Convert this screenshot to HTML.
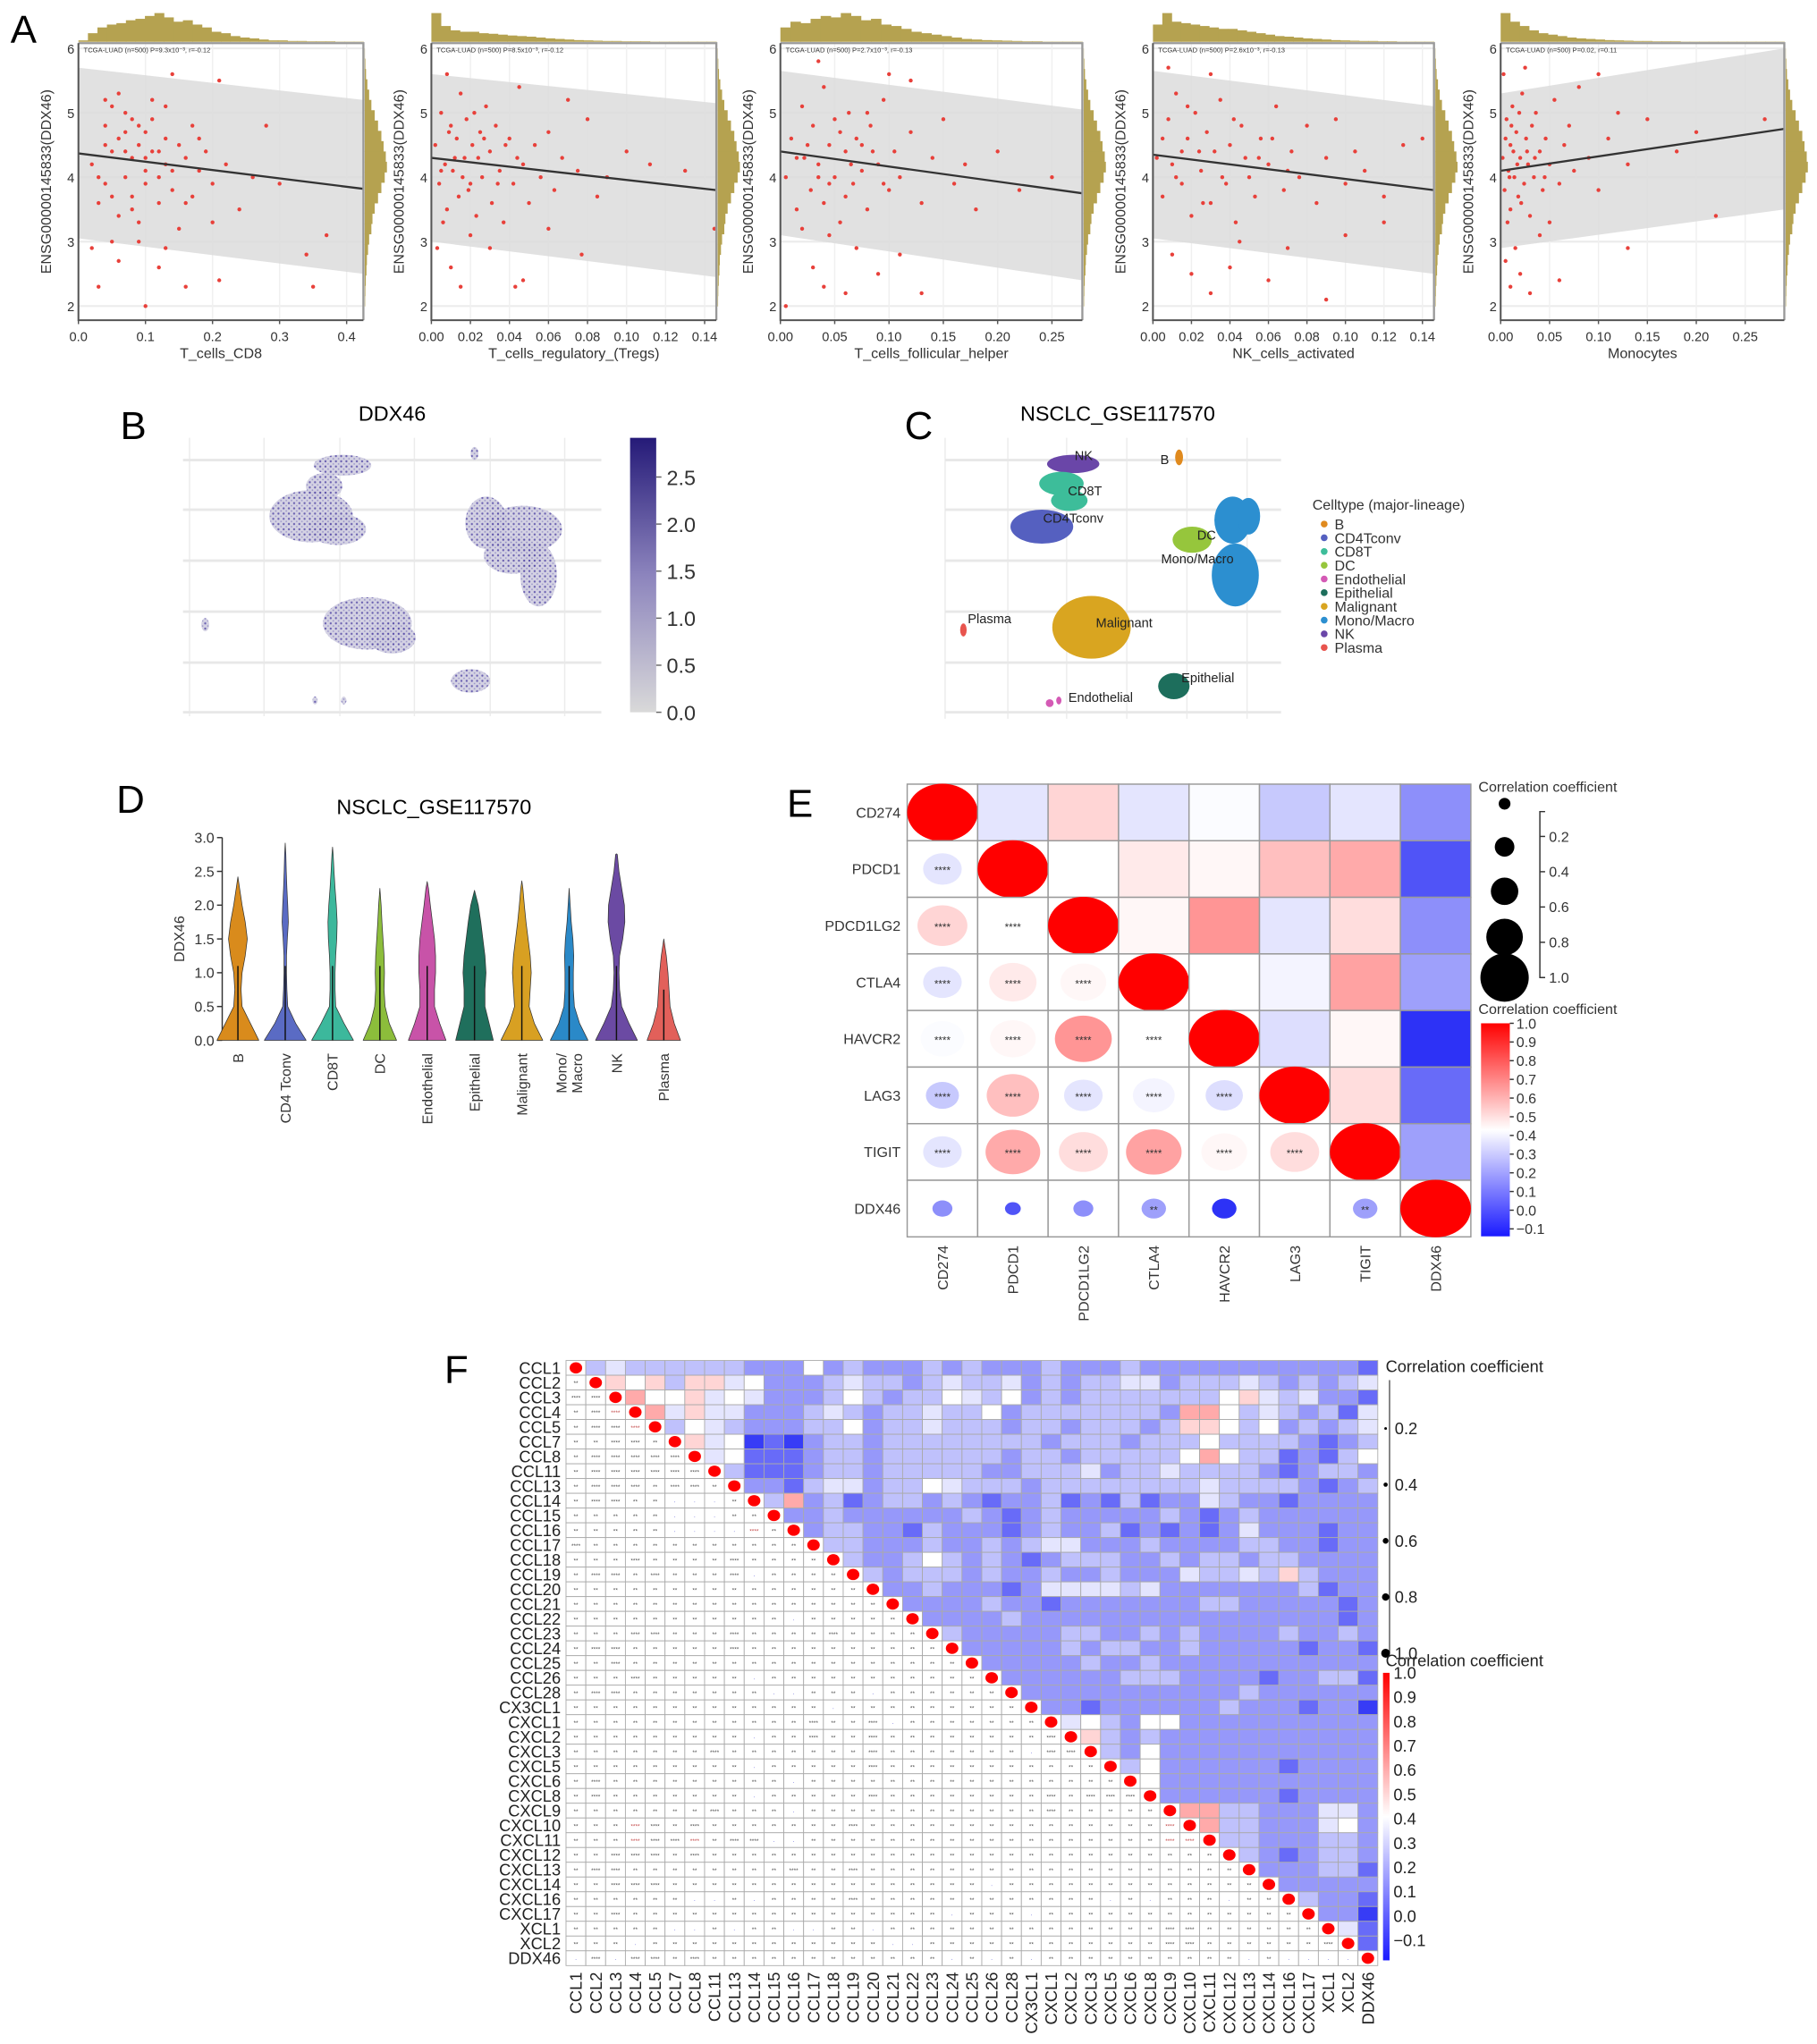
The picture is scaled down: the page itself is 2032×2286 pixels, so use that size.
<!DOCTYPE html>
<html><head><meta charset="utf-8"><title>DDX46 figure</title>
<style>
html,body{margin:0;padding:0;background:#fff;}
svg{display:block;font-family:"Liberation Sans",Arial,sans-serif;}
</style></head>
<body>
<svg id="fig" xmlns="http://www.w3.org/2000/svg" width="2032" height="2286" viewBox="0 0 1390 1564" preserveAspectRatio="none">
<defs>
<linearGradient id="gradB" x1="0" y1="1" x2="0" y2="0">
<stop offset="0" stop-color="#d9d9d9"/><stop offset="0.5" stop-color="#8c84bd"/><stop offset="1" stop-color="#251a78"/></linearGradient>
<linearGradient id="gradCorr" x1="0" y1="0" x2="0" y2="1">
<stop offset="0" stop-color="#ff0000"/><stop offset="0.5" stop-color="#ffffff"/><stop offset="1" stop-color="#1a1aff"/></linearGradient>
<pattern id="dotsB" width="4" height="4" patternUnits="userSpaceOnUse">
<rect width="4" height="4" fill="#cfcde0"/><circle cx="1" cy="1" r="0.8" fill="#5a4fa8"/><circle cx="3" cy="3" r="0.6" fill="#8c86c2"/></pattern>
</defs>
<text x="8" y="33" font-size="30">A</text>
<text x="92" y="336" font-size="30">B</text>
<text x="692" y="336" font-size="30">C</text>
<text x="89" y="622" font-size="30">D</text>
<text x="602" y="625" font-size="30">E</text>
<text x="340" y="1058" font-size="30">F</text>
<text x="300" y="322" font-size="16" text-anchor="middle">DDX46</text>
<text x="855" y="322" font-size="16" text-anchor="middle">NSCLC_GSE117570</text>
<text x="332" y="623" font-size="16" text-anchor="middle">NSCLC_GSE117570</text>
</svg>
<script>
// ---------- DATA: panel A ----------
const aStats = ["TCGA-LUAD (n=500) P=9.3x10\u207B\u00B3, r=-0.12","TCGA-LUAD (n=500) P=8.5x10\u207B\u00B3, r=-0.12","TCGA-LUAD (n=500) P=2.7x10\u207B\u00B3, r=-0.13","TCGA-LUAD (n=500) P=2.6x10\u207B\u00B3, r=-0.13","TCGA-LUAD (n=500) P=0.02, r=0.11"];
const aXLabels = ["T_cells_CD8","T_cells_regulatory_(Tregs)","T_cells_follicular_helper","NK_cells_activated","Monocytes"];
const aXMax = [0.425,0.146,0.278,0.146,0.29];
const aTicks1 = [0,0.1,0.2,0.3,0.4];
const aTickLab1 = ["0.0","0.1","0.2","0.3","0.4"];
const aTicks2 = [0,0.02,0.04,0.06,0.08,0.10,0.12,0.14];
const aTickLab2 = ["0.00","0.02","0.04","0.06","0.08","0.10","0.12","0.14"];
const aTicks3 = [0,0.05,0.10,0.15,0.20,0.25];
const aTickLab3 = ["0.00","0.05","0.10","0.15","0.20","0.25"];
const aYTicks = [2,3,4,5,6];
const aLineStart = [4.37,4.30,4.40,4.35,4.10];
const aLineEnd = [3.82,3.80,3.75,3.80,4.75];
const aBandTop = [[5.70,5.20],[5.60,5.15],[5.65,5.05],[5.65,5.10],[5.30,6.00]];
const aBandBot = [[3.05,2.50],[3.00,2.45],[3.10,2.40],[3.05,2.50],[2.90,3.50]];
const pts1=[[0.02,4.2],[0.03,3.6],[0.04,4.8],[0.04,3.9],[0.05,5.1],[0.05,4.4],[0.06,3.4],[0.06,4.6],[0.07,4.0],[0.07,5.0],[0.08,4.3],[0.08,3.7],[0.08,4.9],[0.09,4.5],[0.09,3.3],[0.1,4.1],[0.1,4.7],[0.1,3.9],[0.11,4.4],[0.11,5.2],[0.12,4.0],[0.12,3.6],[0.13,4.6],[0.13,4.2],[0.14,5.6],[0.14,3.8],[0.15,4.5],[0.15,3.2],[0.16,4.3],[0.17,4.8],[0.17,3.7],[0.18,4.1],[0.19,4.4],[0.2,3.9],[0.21,5.5],[0.22,4.2],[0.24,3.5],[0.26,4.0],[0.28,4.8],[0.3,3.9],[0.03,2.3],[0.06,2.7],[0.1,2.0],[0.12,2.6],[0.16,2.3],[0.21,2.4],[0.35,2.3],[0.34,2.8],[0.37,3.1],[0.2,3.3],[0.09,3.0],[0.05,3.0],[0.13,2.9],[0.02,2.9],[0.07,4.7],[0.11,4.9],[0.04,4.5],[0.06,5.3],[0.09,4.8],[0.12,4.4],[0.03,4.0],[0.08,3.5],[0.14,4.1],[0.05,3.7],[0.1,4.3],[0.16,3.6],[0.07,4.4],[0.13,5.1],[0.18,4.6],[0.04,5.2]];
const pts2=[[0.002,4.5],[0.004,3.9],[0.005,5.0],[0.007,4.2],[0.008,3.5],[0.01,4.8],[0.011,4.1],[0.013,4.6],[0.014,3.7],[0.015,5.3],[0.017,4.3],[0.018,4.9],[0.02,3.9],[0.021,4.5],[0.023,3.4],[0.025,4.7],[0.026,4.0],[0.028,5.1],[0.03,4.4],[0.031,3.6],[0.033,4.8],[0.035,4.1],[0.037,3.3],[0.04,4.6],[0.042,3.9],[0.045,5.4],[0.047,4.2],[0.05,3.6],[0.053,4.5],[0.056,4.0],[0.06,4.7],[0.063,3.8],[0.067,4.3],[0.07,5.2],[0.075,4.1],[0.08,4.9],[0.085,3.7],[0.09,4.0],[0.1,4.4],[0.112,4.2],[0.13,4.1],[0.145,3.2],[0.003,2.9],[0.01,2.6],[0.015,2.3],[0.03,2.9],[0.043,2.3],[0.047,2.4],[0.077,2.8],[0.06,3.2],[0.02,3.1],[0.008,5.6],[0.012,4.3],[0.038,4.5],[0.005,4.1],[0.016,4.0],[0.024,4.3],[0.009,4.7],[0.019,3.8],[0.027,4.6],[0.034,3.9],[0.006,3.3],[0.022,5.0],[0.044,4.3]];
const pts3=[[0.005,4.0],[0.01,4.6],[0.015,3.5],[0.02,5.1],[0.022,4.3],[0.028,3.8],[0.03,4.8],[0.035,4.2],[0.04,5.4],[0.04,3.6],[0.045,4.5],[0.05,4.0],[0.05,4.9],[0.055,3.3],[0.06,4.4],[0.063,5.0],[0.067,3.9],[0.07,4.6],[0.075,4.1],[0.08,3.5],[0.083,4.8],[0.09,4.2],[0.095,5.2],[0.1,3.8],[0.105,4.4],[0.11,4.0],[0.12,4.7],[0.13,3.6],[0.14,4.3],[0.15,4.9],[0.16,3.9],[0.17,4.2],[0.18,3.5],[0.2,4.4],[0.22,3.8],[0.25,4.0],[0.03,2.6],[0.04,2.3],[0.06,2.2],[0.07,2.9],[0.09,2.5],[0.11,2.8],[0.13,2.2],[0.005,2.0],[0.02,3.2],[0.12,5.5],[0.035,5.8],[0.085,4.4],[0.045,3.1],[0.1,5.6],[0.025,4.5],[0.055,4.7],[0.065,4.2],[0.015,4.3],[0.045,3.9],[0.075,4.5],[0.035,4.0],[0.095,3.9],[0.06,3.7],[0.08,5.0]];
const pts4=[[0.002,4.3],[0.005,3.7],[0.008,4.9],[0.01,4.2],[0.012,5.3],[0.015,3.9],[0.018,4.6],[0.02,3.4],[0.022,5.0],[0.025,4.1],[0.028,4.7],[0.03,3.6],[0.032,4.4],[0.035,5.2],[0.038,3.9],[0.04,4.5],[0.043,3.3],[0.046,4.8],[0.05,4.0],[0.053,3.7],[0.056,4.6],[0.06,4.2],[0.064,5.1],[0.068,3.8],[0.072,4.4],[0.076,4.0],[0.08,4.8],[0.085,3.6],[0.09,4.3],[0.095,4.9],[0.1,3.9],[0.105,4.4],[0.11,4.1],[0.12,3.7],[0.13,4.5],[0.14,4.6],[0.01,2.8],[0.02,2.5],[0.03,2.2],[0.04,2.6],[0.045,3.0],[0.06,2.4],[0.07,2.9],[0.09,2.1],[0.1,3.1],[0.12,3.3],[0.008,5.7],[0.03,5.6],[0.055,4.3],[0.015,4.4],[0.024,4.4],[0.036,4.0],[0.048,4.3],[0.012,4.0],[0.026,3.6],[0.042,4.9],[0.062,4.6],[0.018,5.1],[0.07,4.1],[0.005,4.6]];
const pts5=[[0.002,4.3],[0.004,3.8],[0.006,4.9],[0.008,4.1],[0.01,4.5],[0.01,3.5],[0.012,5.1],[0.014,4.0],[0.016,4.7],[0.018,3.7],[0.02,4.3],[0.022,5.3],[0.024,3.9],[0.026,4.6],[0.028,4.2],[0.03,3.4],[0.032,4.8],[0.034,4.0],[0.036,5.0],[0.04,4.4],[0.043,3.8],[0.046,4.6],[0.05,4.2],[0.055,5.2],[0.06,3.9],[0.065,4.5],[0.07,4.8],[0.075,4.1],[0.08,5.4],[0.09,4.3],[0.1,3.8],[0.11,4.6],[0.12,5.0],[0.13,4.2],[0.15,4.9],[0.18,4.4],[0.2,4.7],[0.27,4.9],[0.005,2.7],[0.01,2.3],[0.015,2.9],[0.02,2.5],[0.03,2.2],[0.04,3.1],[0.06,2.4],[0.13,2.9],[0.22,3.4],[0.003,5.6],[0.025,5.7],[0.05,3.3],[0.1,5.6],[0.005,4.6],[0.009,4.0],[0.013,4.4],[0.017,4.2],[0.021,3.6],[0.027,4.4],[0.035,4.3],[0.007,3.3],[0.011,4.8],[0.019,5.0],[0.045,4.0]];
const aPts=[pts1,pts2,pts3,pts4,pts5];
const histTop1=[0.05,0.3,0.5,0.6,0.65,0.75,0.8,0.9,1.0,0.85,0.7,0.75,0.6,0.5,0.35,0.3,0.2,0.15,0.12,0.08,0.05,0.05,0.03,0.03,0.02,0.02,0.02,0.01,0.01,0.01];
const histTop2=[1.0,0.55,0.4,0.35,0.35,0.3,0.28,0.25,0.22,0.2,0.18,0.15,0.12,0.1,0.08,0.06,0.05,0.04,0.03,0.03,0.02,0.02,0.02,0.01,0.01,0.01,0.01,0.01,0.01,0.01];
const histTop3=[0.5,0.7,0.65,0.8,0.9,0.85,1.0,0.9,0.75,0.8,0.6,0.55,0.45,0.35,0.3,0.25,0.2,0.15,0.1,0.08,0.06,0.05,0.04,0.03,0.02,0.02,0.01,0.01,0.01,0.01];
const histTop4=[0.6,1.0,0.7,0.65,0.6,0.55,0.5,0.45,0.45,0.4,0.35,0.3,0.25,0.2,0.18,0.15,0.12,0.1,0.08,0.06,0.05,0.04,0.03,0.03,0.02,0.02,0.01,0.01,0.01,0.01];
const histTop5=[1.0,0.7,0.55,0.4,0.3,0.25,0.2,0.15,0.12,0.1,0.08,0.06,0.05,0.04,0.03,0.03,0.02,0.02,0.02,0.01,0.01,0.01,0.01,0.01,0.01,0.01,0.01,0.01,0.01,0.01];
const aHistTop=[histTop1,histTop2,histTop3,histTop4,histTop5];
const histRight=[0.02,0.03,0.05,0.08,0.1,0.15,0.2,0.3,0.35,0.45,0.6,0.75,0.9,1.0,0.95,0.85,0.75,0.6,0.45,0.3,0.2,0.12,0.06,0.03,0.01];

// ---------- DATA: panel C ----------
const cellTypes=["B","CD4Tconv","CD8T","DC","Endothelial","Epithelial","Malignant","Mono/Macro","NK","Plasma"];
const cellColors=["#e08a1e","#5560c0","#3dbd9a","#96c63c","#d45ab5","#1d6e5c","#d9a520","#2c8fd0","#6a46a8","#e8544e"];

// ---------- DATA: panel D ----------
const violinCats=["B","CD4 Tconv","CD8T","DC","Endothelial","Epithelial","Malignant","Mono/Macro","NK","Plasma"];
const violinLevels=[0,0.25,0.5,0.75,1.0,1.25,1.5,1.75,2.0,2.25,2.5,2.75,3.0];
const violinMax=[2.42,2.92,2.86,2.25,2.35,2.22,2.36,2.25,2.76,1.5];
const vB=[1,0.6,0.2,0.15,0.2,0.35,0.45,0.35,0.2,0.08,0,0,0];
const vCD4=[1,0.5,0.12,0.08,0.06,0.06,0.1,0.15,0.12,0.08,0.05,0.03,0];
const vCD8=[1,0.55,0.15,0.12,0.12,0.15,0.2,0.22,0.18,0.12,0.07,0.03,0];
const vDC=[0.8,0.45,0.25,0.2,0.22,0.2,0.15,0.1,0.06,0.03,0,0,0];
const vEndo=[0.9,0.6,0.35,0.35,0.4,0.4,0.35,0.25,0.15,0.06,0,0,0];
const vEpi=[0.9,0.7,0.5,0.5,0.55,0.5,0.4,0.3,0.18,0.06,0,0,0];
const vMal=[1,0.6,0.35,0.4,0.45,0.4,0.3,0.2,0.12,0.05,0,0,0];
const vMono=[0.9,0.5,0.25,0.2,0.2,0.22,0.18,0.1,0.05,0.02,0,0,0];
const vNK=[1,0.6,0.25,0.15,0.12,0.15,0.3,0.4,0.38,0.25,0.12,0.04,0];
const vPlasma=[0.8,0.5,0.3,0.25,0.2,0.12,0.05,0,0,0,0,0,0];
const violinDens=[vB,vCD4,vCD8,vDC,vEndo,vEpi,vMal,vMono,vNK,vPlasma];
const violinColors=["#d98b1c","#5a6bc4","#3cb89c","#8cbd3b","#c853a8","#1f6f5c","#d8a022","#2a89c8","#6b4aa3","#e2605a"];
const violinYTicks=[0,0.5,1.0,1.5,2.0,2.5,3.0];

// ---------- DATA: panel E ----------
const eGenes=["CD274","PDCD1","PDCD1LG2","CTLA4","HAVCR2","LAG3","TIGIT","DDX46"];
const eRow0=[1,0.3,0.5,0.3,0.38,0.22,0.3,0.08];
const eRow1=[0.3,1,0.4,0.45,0.42,0.55,0.6,-0.05];
const eRow2=[0.5,0.4,1,0.42,0.65,0.3,0.48,0.08];
const eRow3=[0.3,0.45,0.42,1,0.4,0.35,0.62,0.12];
const eRow4=[0.38,0.42,0.65,0.4,1,0.28,0.42,-0.12];
const eRow5=[0.22,0.55,0.3,0.35,0.28,1,0.48,0.0];
const eRow6=[0.3,0.6,0.48,0.62,0.42,0.48,1,0.12];
const eRow7=[0.08,-0.05,0.08,0.12,-0.12,0.0,0.12,1];
const eMat=[eRow0,eRow1,eRow2,eRow3,eRow4,eRow5,eRow6,eRow7];
const eStarsDDX46=["","","","**","","","**"];
const eColorTicks=[1.0,0.9,0.8,0.7,0.6,0.5,0.4,0.3,0.2,0.1,0.0,-0.1];
const eSizeTicks=[0.2,0.4,0.6,0.8,1.0];

// ---------- DATA: panel F ----------
const fGenes=["CCL1","CCL2","CCL3","CCL4","CCL5","CCL7","CCL8","CCL11","CCL13","CCL14","CCL15","CCL16","CCL17","CCL18","CCL19","CCL20","CCL21","CCL22","CCL23","CCL24","CCL25","CCL26","CCL28","CX3CL1","CXCL1","CXCL2","CXCL3","CXCL5","CXCL6","CXCL8","CXCL9","CXCL10","CXCL11","CXCL12","CXCL13","CXCL14","CXCL16","CXCL17","XCL1","XCL2","DDX46"];
// upper triangle, code digit d -> r = d/10 - 0.1
const fUpper=[
"3433333322252322232322232223222222222221",
"656366452223433234334232334423334323234",
"755645422235323354352323333333564342214",
"74644222343233433523333333277534323146",
"3543222335233433323323332366535232346",
"645010233233333333233323335333321232",
"45111233233333323323333357533121352",
"3111233233333223334233433332123321",
"221344233543332333333334333321231",
"37231233232122312131224322122222",
"2232222223212322222321232222222",
"233221322212322312121242221222",
"33222322323442223222233221220",
"3223532321233322323323322222",
"323332322322322243343632223322",
"22322212444434222222231222",
"2222322122222223322222122",
"222232222222222222222122",
"32222233223232222322322",
"2222232332232222212212",
"22222322322222222222",
"2222223332222122331",
"222222222223222222",
"22122222232221220",
"4532552222222222",
"632322222222222",
"32522222222222",
"3522222212222",
"522222222222",
"22222212222",
"7733222442",
"733222452",
"33222332",
"3212332",
"222331",
"22222",
"3221",
"220",
"41",
"1"];
const fColorTicks=[1.0,0.9,0.8,0.7,0.6,0.5,0.4,0.3,0.2,0.1,0.0,-0.1];
const fSizeTicks=[0.2,0.4,0.6,0.8,1.0];

// ---------- helpers ----------
const NS='http://www.w3.org/2000/svg';
const svg=document.getElementById('fig');
function mk(tag,attrs,parent){const e=document.createElementNS(NS,tag);for(const k in attrs)e.setAttribute(k,attrs[k]);(parent||svg).appendChild(e);return e;}
function group(name){const g=mk('g',{});


return g;}
function corrColor(v){let r,g,b;if(v>=0.4){const t=Math.min(1,(v-0.4)/0.6);r=255;g=255*(1-t);b=255*(1-t);}else{const t=Math.pow(Math.min(1,(0.4-v)/0.55),1.25);r=255-225*t;g=255-220*t;b=255-10*t;}return 'rgb('+Math.round(r)+','+Math.round(g)+','+Math.round(b)+')';}

// ---------- Panel A ----------
const aLeft=[60,330,597,882,1148], aRight=[278,548,828,1097,1365];
const aTickSets=[[aTicks1,aTickLab1],[aTicks2,aTickLab2],[aTicks3,aTickLab3],[aTicks2,aTickLab2],[aTicks3,aTickLab3]];
const aTop=33, aBot=245;
function yA(v){return 37+(6-v)*49.3;}
for(let p=0;p<5;p++){
  const g=group('scatter-panel-'+(p+1));
  const L=aLeft[p],R=aRight[p];
  const xA=v=>L+(v/aXMax[p])*(R-L);
  aYTicks.forEach(t=>{const gl=mk('line',{x1:L,x2:R,y1:yA(t),y2:yA(t),stroke:'#ececec','stroke-width':1.5},g);
  
  });
  aTickSets[p][0].forEach(t=>{const gl=mk('line',{x1:xA(t),x2:xA(t),y1:aTop,y2:aBot,stroke:'#f0f0f0','stroke-width':1},g);
  
  });
  const bt=aBandTop[p],bb=aBandBot[p];
  const band=mk('polygon',{points:[L,yA(bt[0]),R,yA(bt[1]),R,yA(bb[1]),L,yA(bb[0])].join(' '),fill:'#dcdcdc','fill-opacity':0.85},g);
  
  
  aPts[p].forEach(pt=>{const c=mk('circle',{cx:xA(pt[0]),cy:yA(pt[1]),r:1.5,fill:'#e8403a'},g);
  
  });
  const ln=mk('line',{x1:L,y1:yA(aLineStart[p]),x2:R,y2:yA(aLineEnd[p]),stroke:'#333','stroke-width':1.6},g);
  
  
  const ht=aHistTop[p], bw=(R-L)/ht.length;
  ht.forEach((h,i)=>{const r=mk('rect',{x:L+i*bw,y:aTop-1-h*22,width:bw+0.3,height:h*22,fill:'#b5a250'},g);
  
  });
  const rh=(yA(2)-yA(6))/histRight.length;
  histRight.forEach((h,i)=>{const r=mk('rect',{x:R+1,y:yA(2)-(i+1)*rh,width:h*17,height:rh+0.3,fill:'#b5a250'},g);
  
  });
  const frame=mk('path',{d:`M${L},${aTop} H${R} V${aBot}`,fill:'none',stroke:'#999','stroke-width':1.6},g);
  
  
  const ax=mk('path',{d:`M${L},${aTop} V${aBot} H${R}`,fill:'none',stroke:'#555','stroke-width':1.4},g);
  
  
  aYTicks.forEach(t=>{const tl=mk('text',{x:L-3,y:yA(t)+4,'font-size':10,'text-anchor':'end',fill:'#333'},g);tl.textContent=t;
  
  });
  aTickSets[p][0].forEach((t,i)=>{const tk=mk('line',{x1:xA(t),x2:xA(t),y1:aBot,y2:aBot+3,stroke:'#555'},g);
  
  
  const tl=mk('text',{x:xA(t),y:aBot+16,'font-size':10,'text-anchor':'middle',fill:'#333'},g);tl.textContent=aTickSets[p][1][i];
  
  });
  const xl=mk('text',{x:(L+R)/2,y:aBot+29,'font-size':11,'text-anchor':'middle',fill:'#333'},g);xl.textContent=aXLabels[p];
  
  
  const yl=mk('text',{x:0,y:0,'font-size':11,'text-anchor':'middle',fill:'#333',transform:`translate(${L-21},${(aTop+aBot)/2}) rotate(-90)`},g);yl.textContent='ENSG00000145833(DDX46)';
  
  
  const st=mk('text',{x:L+4,y:aTop+7,'font-size':5.2,fill:'#333'},g);st.textContent=aStats[p];
  
  
}

// ---------- Panel B ----------
(function(){
  const g=group('umap-expression');
  [145,202,260,317,375,432].forEach(x=>{const l=mk('line',{x1:x,x2:x,y1:335,y2:548,stroke:'#ececec','stroke-width':1},g);
  
  });
  [352,390,429,468,507,545].forEach(y=>{const l=mk('line',{x1:140,x2:460,y1:y,y2:y,stroke:'#e8e8e8','stroke-width':2},g);
  
  });
  const blobs=[[262,356,22,8],[248,372,14,10],[238,395,32,20],[258,405,22,12],[372,400,16,20],[400,405,30,18],[412,440,14,24],[392,425,22,14],[281,477,34,20],[300,488,18,12],[360,521,15,9],[363,347,3,5],[157,478,3,5],[241,536,2,3],[263,536,2,3]];
  blobs.forEach(b=>{const e=mk('ellipse',{cx:b[0],cy:b[1],rx:b[2],ry:b[3],fill:'url(#dotsB)',opacity:0.9},g);
  
  });
  const cb=mk('rect',{x:482,y:335,width:20,height:210,fill:'url(#gradB)'},g);
  
  
  [["2.5",365],["2.0",401],["1.5",437],["1.0",473],["0.5",509],["0.0",545]].forEach(t=>{const tl=mk('text',{x:510,y:t[1]+6,'font-size':16,fill:'#333'},g);tl.textContent=t[0];
  
  
  const tk=mk('line',{x1:502,x2:506,y1:t[1],y2:t[1],stroke:'#666'},g);
  
  });
})();

// ---------- Panel C ----------
(function(){
  const g=group('umap-celltype');
  [723,771,816,862,908,954].forEach(x=>{const l=mk('line',{x1:x,x2:x,y1:335,y2:550,stroke:'#ececec','stroke-width':1},g);
  
  });
  [352,390,429,468,507,545].forEach(y=>{const l=mk('line',{x1:723,x2:980,y1:y,y2:y,stroke:'#e8e8e8','stroke-width':2},g);
  
  });
  const shapes=[[8,821,355,20,7],[2,812,370,17,9],[2,818,383,14,8],[1,797,403,24,13],[0,902,350,3,6],[7,943,398,14,18],[7,945,440,18,24],[7,955,395,9,14],[3,912,413,15,10],[6,835,480,30,24],[9,737,482,2.5,5],[5,898,525,12,10],[4,803,538,3,3],[4,810,536,2,3]];
  shapes.forEach(s=>{const e=mk('ellipse',{cx:s[1],cy:s[2],rx:s[3],ry:s[4],fill:cellColors[s[0]]},g);
  
  });
  const labs=[["NK",829,352],["CD8T",830,379],["CD4Tconv",821,400],["B",891,355],["DC",923,413],["Mono/Macro",916,431],["Malignant",860,480],["Plasma",757,477],["Epithelial",924,522],["Endothelial",842,537]];
  labs.forEach(l=>{const t=mk('text',{x:l[1],y:l[2],'font-size':10,'text-anchor':'middle',fill:'#222'},g);t.textContent=l[0];
  
  });
  const lt=mk('text',{x:1004,y:390,'font-size':11,fill:'#333'},g);lt.textContent='Celltype (major-lineage)';
  
  
  cellTypes.forEach((c,i)=>{const y=401+i*10.5;
  const d=mk('circle',{cx:1013,cy:y,r:2.6,fill:cellColors[i]},g);
  
  
  const t=mk('text',{x:1021,y:y+4,'font-size':11,fill:'#333'},g);t.textContent=c;
  
  });
})();

// ---------- Panel D ----------
(function(){
  const g=group('violin-plot');
  const yD=v=>796-v*51.7;
  const x0=182, dx=36.2;
  const ax=mk('line',{x1:170,x2:170,y1:yD(3),y2:yD(0),stroke:'#333'},g);
  
  
  violinYTicks.forEach(t=>{const tk=mk('line',{x1:166,x2:170,y1:yD(t),y2:yD(t),stroke:'#333'},g);
  
  
  const tl=mk('text',{x:164,y:yD(t)+4,'font-size':11,'text-anchor':'end',fill:'#333'},g);tl.textContent=t.toFixed(1);
  
  });
  const yl=mk('text',{x:0,y:0,'font-size':11,'text-anchor':'middle',fill:'#333',transform:`translate(141,${yD(1.5)}) rotate(-90)`},g);yl.textContent='DDX46';
  
  
  violinCats.forEach((c,i)=>{
    const cx=x0+i*dx, dens=violinDens[i], W=16;
    const lv=violinLevels.filter(v=>v<violinMax[i]).concat([violinMax[i]]);
    const wd=lv.map((v,k)=>k<lv.length-1?dens[k]*W:0);
    let d='M'+cx+','+yD(0);
    lv.forEach((v,k)=>{d+=' L'+(cx+wd[k])+','+yD(v);});
    for(let k=lv.length-1;k>=0;k--){d+=' L'+(cx-wd[k])+','+yD(lv[k]);}
    d+='Z';
    const p=mk('path',{d:d,fill:violinColors[i],stroke:'#333','stroke-width':0.5,'stroke-linejoin':'round'},g);
    
    
    const bx=mk('line',{x1:cx,x2:cx,y1:yD(0),y2:yD(Math.min(1.1,violinMax[i]*0.5)),stroke:'#111','stroke-width':1},g);
    
    
    if(c==='Mono/Macro'){
      ['Mono/','Macro'].forEach((s,k)=>{const t=mk('text',{x:0,y:0,'font-size':11,'text-anchor':'end',fill:'#333',transform:`translate(${cx-2+k*12},806) rotate(-90)`},g);t.textContent=s;
      
      });
    } else {
      const t=mk('text',{x:0,y:0,'font-size':11,'text-anchor':'end',fill:'#333',transform:`translate(${cx+4},806) rotate(-90)`},g);t.textContent=c;
      
      
    }
  });
})();

// ---------- Panel E ----------
(function(){
  const g=group('correlation-matrix-e');
  const X0=694,Y0=600,cw=53.9,ch=43.3,n=eGenes.length;
  for(let i=0;i<n;i++)for(let j=0;j<n;j++){
    const v=eMat[i][j];
    const r=mk('rect',{x:X0+j*cw,y:Y0+i*ch,width:cw,height:ch,fill:j>i?corrColor(v):'#fff',stroke:'#999','stroke-width':1},g);
    
    
    const cx=X0+(j+0.5)*cw, cy=Y0+(i+0.5)*ch;
    if(j<=i){
      const s=Math.sqrt(Math.abs(v));
      const e=mk('ellipse',{cx:cx,cy:cy,rx:27*s,ry:22*s,fill:corrColor(v)},g);
      
      
      if(j<i){const st=i===n-1?eStarsDDX46[j]:'****';
        if(st){const t=mk('text',{x:cx,y:cy+4,'font-size':8,'text-anchor':'middle',fill:'#333'},g);t.textContent=st;
        
        }}
    }
  }
  eGenes.forEach((gn,i)=>{const t=mk('text',{x:X0-5,y:Y0+(i+0.5)*ch+4,'font-size':11,'text-anchor':'end',fill:'#333'},g);t.textContent=gn;
  
  
  const c=mk('text',{x:0,y:0,'font-size':11,'text-anchor':'end',fill:'#333',transform:`translate(${X0+(i+0.5)*cw+4},953) rotate(-90)`},g);c.textContent=gn;
  
  });
  const st=mk('text',{x:1131,y:606,'font-size':11,fill:'#333'},g);st.textContent='Correlation coefficient';
  
  
  const sl=mk('path',{d:'M1182,621 H1178 V748 H1182',fill:'none',stroke:'#333'},g);
  
  
  const sizeY=[615,648,682,717,748],sizeR=[4.5,7.5,10.5,14,18.5];
  sizeY.forEach((y,k)=>{const c=mk('circle',{cx:1151,cy:y,r:sizeR[k],fill:'#000'},g);
  
  });
  eSizeTicks.forEach(t=>{const y=640+(t-0.2)/0.2*27;
  const tk=mk('line',{x1:1178,x2:1182,y1:y,y2:y,stroke:'#333'},g);
  
  
  const tl=mk('text',{x:1185,y:y+4,'font-size':11,fill:'#333'},g);tl.textContent=t.toFixed(1);
  
  });
  const ct=mk('text',{x:1131,y:776,'font-size':11,fill:'#333'},g);ct.textContent='Correlation coefficient';
  
  
  const cb=mk('rect',{x:1133,y:783,width:22,height:163,fill:'url(#gradCorr)'},g);
  
  
  eColorTicks.forEach(t=>{const y=783+(1-t)*143;
  const tk=mk('line',{x1:1155,x2:1158,y1:y,y2:y,stroke:'#333'},g);
  
  
  const tl=mk('text',{x:1160,y:y+4,'font-size':11,fill:'#333'},g);tl.textContent=(t<0?'\u2212':'')+Math.abs(t).toFixed(1);
  
  });
})();

// ---------- Panel F ----------
(function(){
  const g=group('correlation-matrix-f');
  const n=fGenes.length, X0=433, Y0=1041, cw=(1054-433)/n, ch=(1504-1041)/n;
  const val=(i,j)=>{if(i===j)return 1;const a=Math.min(i,j),b=Math.max(i,j);const s=fUpper[a]||'';const c=s.charAt(b-a-1)||'2';return parseInt(c,10)/10-0.1;};
  for(let i=0;i<n;i++)for(let j=0;j<n;j++){
    const v=val(i,j);
    const r=mk('rect',{x:X0+j*cw,y:Y0+i*ch,width:cw,height:ch,fill:j>i?corrColor(v):'#fff',stroke:'#aaa','stroke-width':0.6},g);
    
    
    const cx=X0+(j+0.5)*cw, cy=Y0+(i+0.5)*ch;
    if(i===j){const c=mk('ellipse',{cx:cx,cy:cy,rx:4.8,ry:4.3,fill:'#ff0000'},g);
      
      }
    else if(j<i){const st=v>=0.3?'****':v>=0.2?'***':v>=0.1?'**':'\u00B7';
      const t=mk('text',{x:cx,y:cy+2,'font-size':4.5,'text-anchor':'middle',fill:v<0.05?'#3333cc':(v>0.55?'#c04040':'#444')},g);t.textContent=st;
      
      }
  }
  fGenes.forEach((gn,i)=>{const t=mk('text',{x:X0-4,y:Y0+(i+0.5)*ch+4.5,'font-size':12.5,'text-anchor':'end',fill:'#222'},g);t.textContent=gn;
  
  
  const c=mk('text',{x:0,y:0,'font-size':12.5,'text-anchor':'end',fill:'#222',transform:`translate(${X0+(i+0.5)*cw+4.5},1509) rotate(-90)`},g);c.textContent=gn;
  
  });
  const st=mk('text',{x:1060,y:1050,'font-size':12.5,fill:'#222'},g);st.textContent='Correlation coefficient';
  
  
  const ax=mk('line',{x1:1063,x2:1063,y1:1056,y2:1265,stroke:'#333','stroke-width':0.8},g);
  
  
  fSizeTicks.forEach((t,k)=>{const y=1093+k*43;
  const d=mk('circle',{cx:1060,cy:y,r:1+k*0.6,fill:'#000'},g);
  
  
  const tl=mk('text',{x:1067,y:y+4.5,'font-size':12.5,fill:'#222'},g);tl.textContent=t.toFixed(1);
  
  });
  const ct=mk('text',{x:1060,y:1275,'font-size':12.5,fill:'#222'},g);ct.textContent='Correlation coefficient';
  
  
  const cb=mk('rect',{x:1058,y:1280,width:5,height:220,fill:'url(#gradCorr)'},g);
  
  
  fColorTicks.forEach(t=>{const y=1280+(1-t)*186;
  const tl=mk('text',{x:1066,y:y+4.5,'font-size':12.5,fill:'#222'},g);tl.textContent=(t<0?'\u2212':'')+Math.abs(t).toFixed(1);
  
  });
})();
</script>
</body></html>
